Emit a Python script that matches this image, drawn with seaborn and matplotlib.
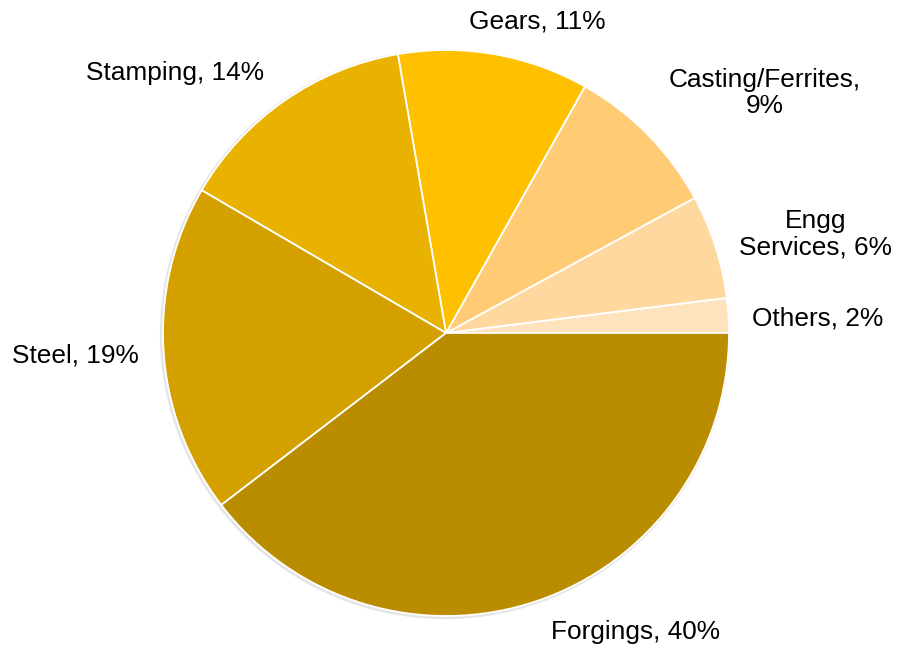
import matplotlib
matplotlib.use("Agg")
import matplotlib.pyplot as plt
import seaborn as sns
from matplotlib.patches import Circle

# Revenue mix by business segment
segments = ["Others", "Engg\nServices", "Casting/Ferrites", "Gears", "Stamping", "Steel", "Forgings"]
shares = [2, 6, 9, 11, 14, 19, 40]
colors = ["#FFE3BE", "#FFD89F", "#FFCC75", "#FFC000", "#EAB200", "#D4A000", "#BA8C00"]

# label text and position (pie units, centre at origin, radius 1)
label_texts = ["Others, 2%", "Engg\nServices, 6%", "Casting/Ferrites,\n9%", "Gears, 11%",
               "Stamping, 14%", "Steel, 19%", "Forgings, 40%"]
label_xy = [(1.314, 0.053), (1.307, 0.348), (1.127, 0.848), (0.322, 1.099),
            (-0.958, 0.919), (-1.311, -0.078), (0.671, -1.057)]

sns.set_theme(style="white")
plt.rcParams["font.family"] = ["Liberation Sans", "DejaVu Sans"]

fig = plt.figure(figsize=(8.99, 6.46), dpi=100)
ax = fig.add_axes([0, 0, 1, 1])

# faint shadow around the rim
ax.add_patch(Circle((-0.004, -0.004), 1.007, color="#D4D4D4", alpha=0.6, zorder=0, lw=0))

wedges, _ = ax.pie(shares, colors=colors, startangle=0, counterclock=True,
                   radius=1.0, center=(0, 0), frame=True,
                   wedgeprops=dict(edgecolor="white", linewidth=1.3))
for w in wedges:
    w.set_zorder(1)

for txt, (x, y) in zip(label_texts, label_xy):
    ax.text(x, y, txt, ha="center", va="center", fontsize=18.9, color="black",
            linespacing=1.15, zorder=3)

ax.set_xlim(-446 / 283, (899 - 446) / 283)
ax.set_ylim(-(646 - 333) / 283, 333 / 283)
ax.set_aspect("auto")
ax.axis("off")

fig.savefig("out.png", dpi=100)
